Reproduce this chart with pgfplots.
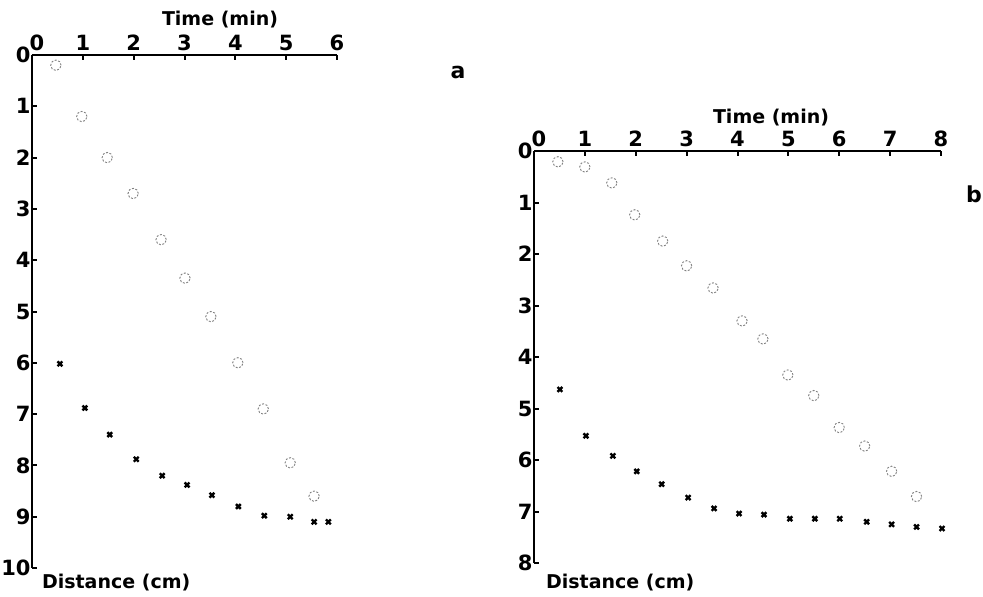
\documentclass[border=0pt]{standalone}
\usepackage{fontspec}
\setmainfont{DejaVu Sans}
\usepackage{pgfplots}
\pgfplotsset{compat=1.18}
\newcommand\lbl{\fontsize{9.5}{11}\selectfont\bfseries}
\newcommand\tck{\fontsize{10.5}{12}\selectfont\bfseries}

\pgfplotsset{
  panel/.style={
    scale only axis, y dir=reverse,
    axis x line*=top, axis y line*=left,
    axis line style={line width=1.2pt, black},
    major tick style={line width=1pt, black},
    major tick length=2.5pt, tick align=inside,
    tick label style={font=\tck},
    yticklabel style={inner xsep=0.5pt},
    xticklabel style={inner ysep=2pt},
    xmin=0, ymin=0, clip=false,
  },
  circ/.style={only marks, mark=o, mark size=2.6pt,
    mark options={draw=black!50, line width=0.45pt, dash pattern=on 1pt off 0.8pt}},
  cross/.style={only marks, mark=x, mark size=1.7pt,
    mark options={draw=black, line width=1.2pt}},
}

\begin{document}
\begin{tikzpicture}
% panel a
\begin{axis}[panel, at={(16pt,14pt)}, anchor=south west,
  width=152.5pt, height=256.5pt,
  xmax=6, ymax=10, xtick={0,...,6}, ytick={0,...,10},
  xticklabels={\hspace{5pt}0,1,2,3,4,5,6},
  yticklabels={0\hspace{4pt},1,2,3,4,5,6,7,8,9,10}]
\addplot[circ] coordinates {
  (0.47,0.2)(0.98,1.2)(1.48,2.0)(1.99,2.7)(2.54,3.6)(3.01,4.35)
  (3.52,5.1)(4.05,6.0)(4.55,6.9)(5.08,7.95)(5.55,8.6)};
\addplot[cross] coordinates {
  (0.55,6.02)(1.04,6.88)(1.53,7.4)(2.05,7.88)(2.56,8.2)(3.05,8.38)
  (3.54,8.58)(4.06,8.8)(4.57,8.98)(5.08,9.0)(5.55,9.1)(5.83,9.1)};
\end{axis}

% panel b
\begin{axis}[panel, at={(267pt,16.5pt)}, anchor=south west,
  width=203.5pt, height=206pt,
  xmax=8, ymax=8, xtick={0,...,8}, ytick={0,...,8},
  xticklabels={\hspace{5pt}0,1,2,3,4,5,6,7,8},
  yticklabels={0\hspace{4pt},1,2,3,4,5,6,7,8}]
\addplot[circ] coordinates {
  (0.47,0.21)(1.0,0.31)(1.53,0.62)(1.98,1.24)(2.53,1.75)(3.0,2.23)
  (3.52,2.66)(4.09,3.3)(4.5,3.65)(4.99,4.35)(5.5,4.75)(6.0,5.37)
  (6.5,5.73)(7.03,6.22)(7.52,6.71)};
\addplot[cross] coordinates {
  (0.51,4.63)(1.02,5.53)(1.55,5.92)(2.02,6.22)(2.51,6.47)(3.03,6.73)
  (3.54,6.94)(4.03,7.04)(4.52,7.06)(5.03,7.14)(5.52,7.14)(6.01,7.14)
  (6.54,7.2)(7.03,7.25)(7.52,7.3)(8.02,7.33)};
\end{axis}

% axis titles and panel letters
\node[font=\lbl, anchor=base] at (110pt,285pt) {Time (min)};
\node[font=\lbl, anchor=base west] at (17.5pt,4pt) {Distance (cm)};
\node[font=\lbl, anchor=base] at (385.5pt,236.5pt) {Time (min)};
\node[font=\lbl, anchor=base west] at (269.5pt,4pt) {Distance (cm)};
\node[font=\fontsize{11}{13}\selectfont\bfseries] at (229pt,262pt) {a};
\node[font=\fontsize{11}{13}\selectfont\bfseries] at (487pt,201pt) {b};

\pgfresetboundingbox
\useasboundingbox (0,0) rectangle (491.5pt,298pt);
\end{tikzpicture}
\end{document}
